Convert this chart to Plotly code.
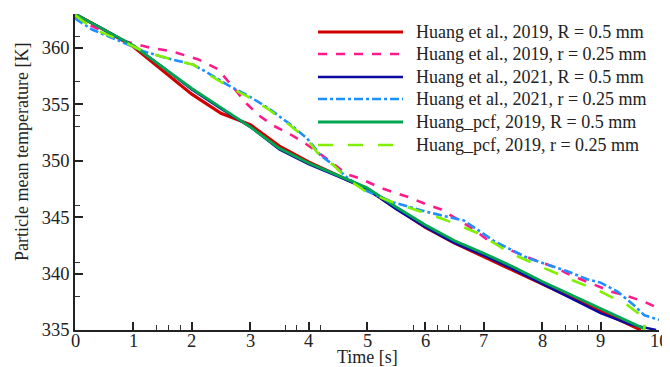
import plotly.graph_objects as go

# ---- data ----
names = [
    "Huang et al., 2019, R = 0.5 mm",
    "Huang et al., 2019, r = 0.25 mm",
    "Huang et al., 2021, R = 0.5 mm",
    "Huang et al., 2021, r = 0.25 mm",
    "Huang_pcf, 2019, R = 0.5 mm",
    "Huang_pcf, 2019, r = 0.25 mm",
]

t_red = [0, 0.5, 1, 1.5, 2, 2.5, 2.8, 3, 3.5, 4, 4.5, 5, 5.5, 6, 6.5, 7, 7.5, 8, 8.5, 9, 9.5, 9.69]
T_red = [363, 361.6, 360.1, 358.0, 355.9, 354.2, 353.6, 353.2, 351.3, 349.9, 348.7, 347.5, 345.8, 344.1, 342.7, 341.5, 340.3, 339.1, 337.9, 336.7, 335.5, 335.0]

t_pink = [0, 0.3, 0.77, 1.3, 1.65, 2.1, 2.45, 2.7, 2.95, 3.15, 3.4, 3.7, 3.95, 4.2, 4.45, 4.66, 4.89, 5.23, 5.46, 5.75, 6.03, 6.26, 6.55, 6.83, 7.06, 7.35, 7.63, 7.92, 8.2, 8.43, 8.66, 8.95, 9.18, 9.46, 9.75, 10]
T_pink = [362.8, 361.9, 360.7, 360.0, 359.7, 359.0, 358.1, 356.5, 355.0, 354.0, 353.1, 352.3, 351.5, 350.6, 349.6, 348.8, 348.4, 347.6, 347.2, 346.7, 346.1, 345.7, 344.8, 343.9, 343.0, 342.3, 341.7, 341.1, 340.6, 340.0, 339.5, 338.9, 338.4, 338.0, 337.5, 336.9]

t_blue = [0, 0.5, 1, 1.5, 2, 2.5, 3, 3.5, 4, 4.5, 5, 5.5, 6, 6.5, 7, 7.5, 8, 8.5, 9, 9.5, 9.95]
T_blue = [363, 361.6, 360.2, 358.3, 356.3, 354.6, 353.0, 351.0, 349.7, 348.6, 347.5, 345.7, 344.1, 342.7, 341.6, 340.4, 339.1, 337.8, 336.5, 335.5, 335.0]

t_dblue = [0, 0.3, 0.77, 1.17, 1.57, 2.03, 2.3, 2.65, 2.95, 3.3, 3.69, 3.97, 4.2, 4.43, 4.66, 5.0, 5.46, 6.0, 6.32, 6.66, 7.17, 7.74, 8.2, 8.43, 8.77, 9.0, 9.29, 9.57, 9.75, 10]
T_dblue = [362.6, 361.6, 360.6, 359.7, 359.1, 358.5, 357.7, 356.6, 355.8, 354.7, 353.2, 352.0, 350.5, 349.6, 348.5, 347.3, 346.3, 345.5, 345.1, 344.7, 342.9, 341.4, 340.6, 340.2, 339.5, 339.2, 338.4, 337.2, 336.3, 335.9]

t_green = [0, 0.5, 1, 1.5, 2, 2.5, 3, 3.5, 4, 4.5, 5, 5.5, 6, 6.5, 7, 7.5, 8, 8.5, 9, 9.5, 9.75]
T_green = [363, 361.6, 360.2, 358.3, 356.4, 354.7, 353.0, 351.1, 349.8, 348.7, 347.6, 345.9, 344.3, 342.9, 341.8, 340.6, 339.3, 338.1, 336.9, 335.7, 335.1]

t_lgreen = [0, 0.3, 0.77, 1.17, 1.57, 2.03, 2.3, 2.65, 2.95, 3.3, 3.69, 3.97, 4.2, 4.43, 4.66, 5.0, 5.4, 5.75, 6.32, 6.89, 7.46, 8.03, 8.43, 9.0, 9.46, 9.69, 9.75, 9.75]
T_lgreen = [362.9, 361.7, 360.7, 359.7, 359.1, 358.5, 357.6, 356.5, 355.7, 354.6, 353.1, 351.9, 350.4, 349.6, 348.4, 347.2, 346.4, 345.8, 344.8, 343.6, 341.8, 340.5, 339.6, 338.4, 337.2, 336.3, 336.2, 335.0]

x_ticks = [0, 1, 2, 3, 4, 5, 6, 7, 8, 9, 10]
x_ticklabels = ["0", "1", "2", "3", "4", "5", "6", "7", "8", "9", "10"]
y_ticks = [335, 340, 345, 350, 355, 360]
x_minor = [1.4, 1.6, 1.8, 3.6, 3.8, 4.2, 5.8, 6.2, 6.4, 6.6, 8.4, 8.6, 8.8]
y_minor = [338, 341, 346, 353, 354, 357, 361]

x_title = "Time [s]"
y_title = "Particle mean temperature [K]"

series = [
    (t_red, T_red, "#d00000", 3.2, "solid"),
    (t_pink, T_pink, "#ff1a8c", 2.6, "dash"),
    (t_blue, T_blue, "#0a0aa0", 2.4, "solid"),
    (t_dblue, T_dblue, "#1e8fff", 2.6, "dashdot"),
    (t_green, T_green, "#00a651", 2.8, "solid"),
    (t_lgreen, T_lgreen, "#80f000", 2.6, "longdash"),
]

FONT = "Liberation Serif, Times New Roman, serif"
TXT = "#222"

# the page body has an 8px default margin: size the figure to the visible area
OFF = 8
FW, FH = 670 - OFF, 367 - OFF
# plot-area geometry in screen pixels
L, TOP, R, BOT = 75, 14, 659, 330
W, H = R - L, BOT - TOP

def px(xs):
    return (xs - L) / W
def py(ys):
    return (BOT - ys) / H

fig = go.Figure()
for (tx, ty, col, w, dash), nm in zip(series, names):
    fig.add_trace(go.Scatter(x=tx, y=ty, mode="lines", name=nm,
                             line=dict(color=col, width=w, dash=dash),
                             showlegend=False))

# custom legend with long line samples
rows_y = [32, 54, 77, 99, 122, 145]
for (tx, ty, col, w, dash), nm, ry in zip(series, names, rows_y):
    fig.add_shape(type="line", xref="paper", yref="paper",
                  x0=px(318), x1=px(403), y0=py(ry), y1=py(ry),
                  line=dict(color=col, width=w, dash=dash))
    fig.add_annotation(xref="paper", yref="paper", x=px(414), y=py(ry),
                       text=nm, showarrow=False, xanchor="left", yanchor="middle",
                       font=dict(family=FONT, size=18, color=TXT))

# x tick labels placed close to the axis (as in the reference)
for v, lab in zip(x_ticks, x_ticklabels):
    fig.add_annotation(xref="x", yref="paper", x=v, y=py(341),
                       text=lab, showarrow=False, xanchor="center", yanchor="middle",
                       font=dict(family=FONT, size=18.5, color=TXT))

# axis titles
fig.add_annotation(xref="paper", yref="paper", x=px(367), y=py(357),
                   text=x_title, showarrow=False, xanchor="center", yanchor="middle",
                   font=dict(family=FONT, size=18, color=TXT))
fig.add_annotation(xref="paper", yref="paper", x=px(22), y=py(152),
                   text=y_title, showarrow=False, xanchor="center", yanchor="middle",
                   textangle=-90, font=dict(family=FONT, size=18, color=TXT))

fig.update_layout(
    width=FW, height=FH,
    margin=dict(l=L - OFF, r=670 - R, t=TOP - OFF, b=367 - BOT, autoexpand=False),
    paper_bgcolor="white", plot_bgcolor="white",
    font=dict(family=FONT, size=18, color=TXT),
)
fig.update_xaxes(range=[0, 10], tickvals=x_ticks, ticks="inside", ticklen=8,
                 tickwidth=1.5, tickcolor=TXT, showline=True, linecolor=TXT,
                 linewidth=1.5, showgrid=False, zeroline=False, automargin=False,
                 showticklabels=False,
                 minor=dict(tickvals=x_minor, ticks="inside", ticklen=5, tickcolor="#333", tickwidth=1))
fig.update_yaxes(range=[335, 363], tickvals=y_ticks, ticks="inside", ticklen=8,
                 tickwidth=1.5, tickcolor=TXT, showline=True, linecolor=TXT,
                 linewidth=1.5, showgrid=False, zeroline=False, automargin=False,
                 tickfont=dict(size=18.5),
                 minor=dict(tickvals=y_minor, ticks="inside", ticklen=5, tickcolor="#333", tickwidth=1))

# hide page scrollbars so the full figure width stays visible
fig.write_html("out.html", post_script=(
    "document.documentElement.style.overflow='hidden';"
    "document.body.style.overflow='hidden';"))
